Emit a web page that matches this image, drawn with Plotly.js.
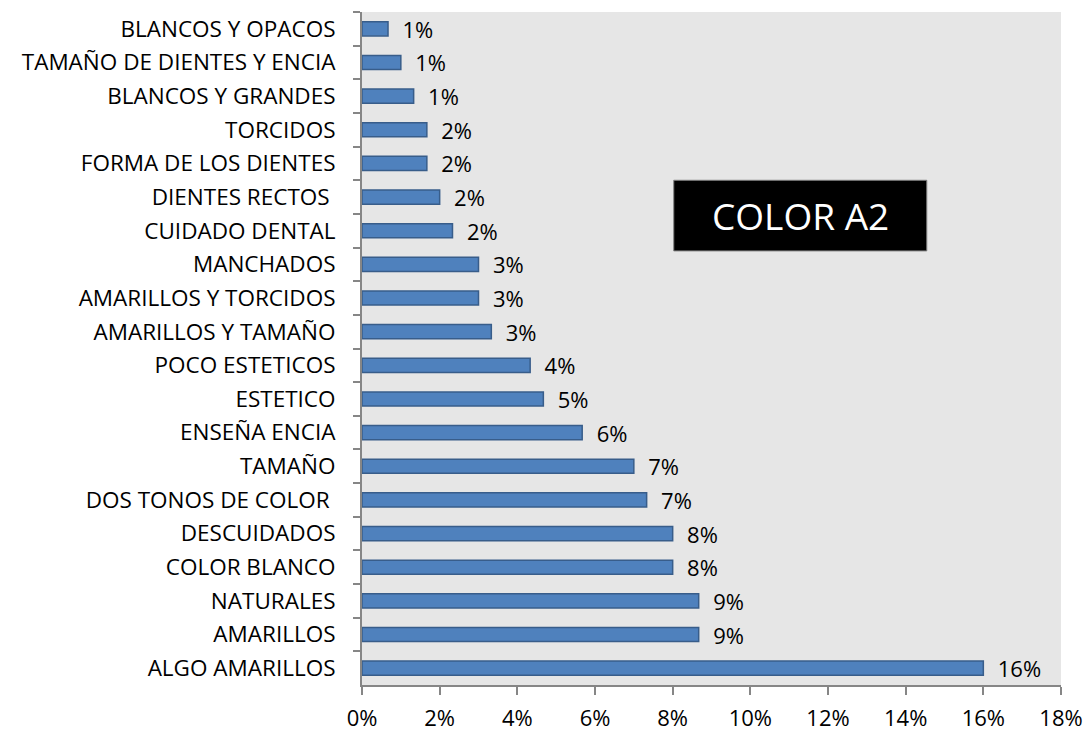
<!DOCTYPE html>
<html>
<head>
<meta charset="utf-8">
<script src="https://cdn.plot.ly/plotly-3.0.1.min.js"></script>
<style>html,body{margin:0;padding:0;background:#fff;}#chart{width:1086px;height:731px;}</style>
</head>
<body>
<div id="chart"></div>
<script>
const categories = [
  "BLANCOS Y OPACOS",
  "TAMAÑO DE DIENTES Y ENCIA",
  "BLANCOS Y GRANDES",
  "TORCIDOS",
  "FORMA DE LOS DIENTES",
  "DIENTES RECTOS ",
  "CUIDADO DENTAL",
  "MANCHADOS",
  "AMARILLOS Y TORCIDOS",
  "AMARILLOS Y TAMAÑO",
  "POCO ESTETICOS",
  "ESTETICO",
  "ENSEÑA ENCIA",
  "TAMAÑO",
  "DOS TONOS DE COLOR ",
  "DESCUIDADOS",
  "COLOR BLANCO",
  "NATURALES",
  "AMARILLOS",
  "ALGO AMARILLOS"
];
const values = [
  0.0067, 0.0100, 0.0133, 0.0167, 0.0167, 0.0200, 0.0233, 0.0300, 0.0300, 0.0333,
  0.0433, 0.0467, 0.0567, 0.0700, 0.0733, 0.0800, 0.0800, 0.0867, 0.0867, 0.1600
];
const xTickValues = [0, 0.02, 0.04, 0.06, 0.08, 0.10, 0.12, 0.14, 0.16, 0.18];
const chartTitle = "COLOR A2";

const FONT = "'Open Sans', Lato, sans-serif";

const trace = {
  type: "bar",
  orientation: "h",
  y: categories,
  x: values,
  marker: {color: "#4F81BD", line: {color: "#385D8A", width: 1.5}},
  texttemplate: "\u00a0\u00a0%{x:.0%}",
  textposition: "outside",
  constraintext: "none",
  cliponaxis: false,
  textfont: {family: FONT, size: 22, color: "#000"},
  hoverinfo: "none"
};

const layout = {
  width: 1086, height: 731,
  margin: {l: 362, r: 25, t: 12, b: 46},
  paper_bgcolor: "#ffffff",
  plot_bgcolor: "#E6E6E6",
  bargap: 0.58,
  showlegend: false,
  font: {family: FONT, color: "#000"},
  xaxis: {
    range: [0, 0.18],
    tickvals: xTickValues,
    tickformat: ".0%",
    ticks: "outside", ticklen: 8, tickcolor: "#868686", tickwidth: 2,
    showline: true, linecolor: "#868686", linewidth: 2,
    showgrid: false, zeroline: false,
    tickfont: {family: FONT, size: 22, color: "#000"},
    ticklabelstandoff: 5
  },
  yaxis: {
    type: "category",
    autorange: "reversed",
    ticks: "outside", ticklen: 7, tickcolor: "#868686", tickwidth: 2,
    tickson: "boundaries",
    showline: true, linecolor: "#868686", linewidth: 2,
    showgrid: false, zeroline: false,
    tickfont: {family: FONT, size: 22.5, color: "#000"},
    ticklabelstandoff: 20
  },
  shapes: [{
    type: "rect", xref: "paper", yref: "paper",
    x0: 0.446, x1: 0.808, y0: 0.645, y1: 0.750,
    fillcolor: "#000000", line: {color: "#808080", width: 1}
  }],
  annotations: [{
    xref: "paper", yref: "paper", x: 0.627, y: 0.6975,
    text: chartTitle, showarrow: false,
    font: {family: FONT, size: 37, color: "#ffffff"},
    xanchor: "center", yanchor: "middle"
  }]
};

Plotly.newPlot("chart", [trace], layout, {staticPlot: true, displayModeBar: false});
</script>
</body>
</html>
